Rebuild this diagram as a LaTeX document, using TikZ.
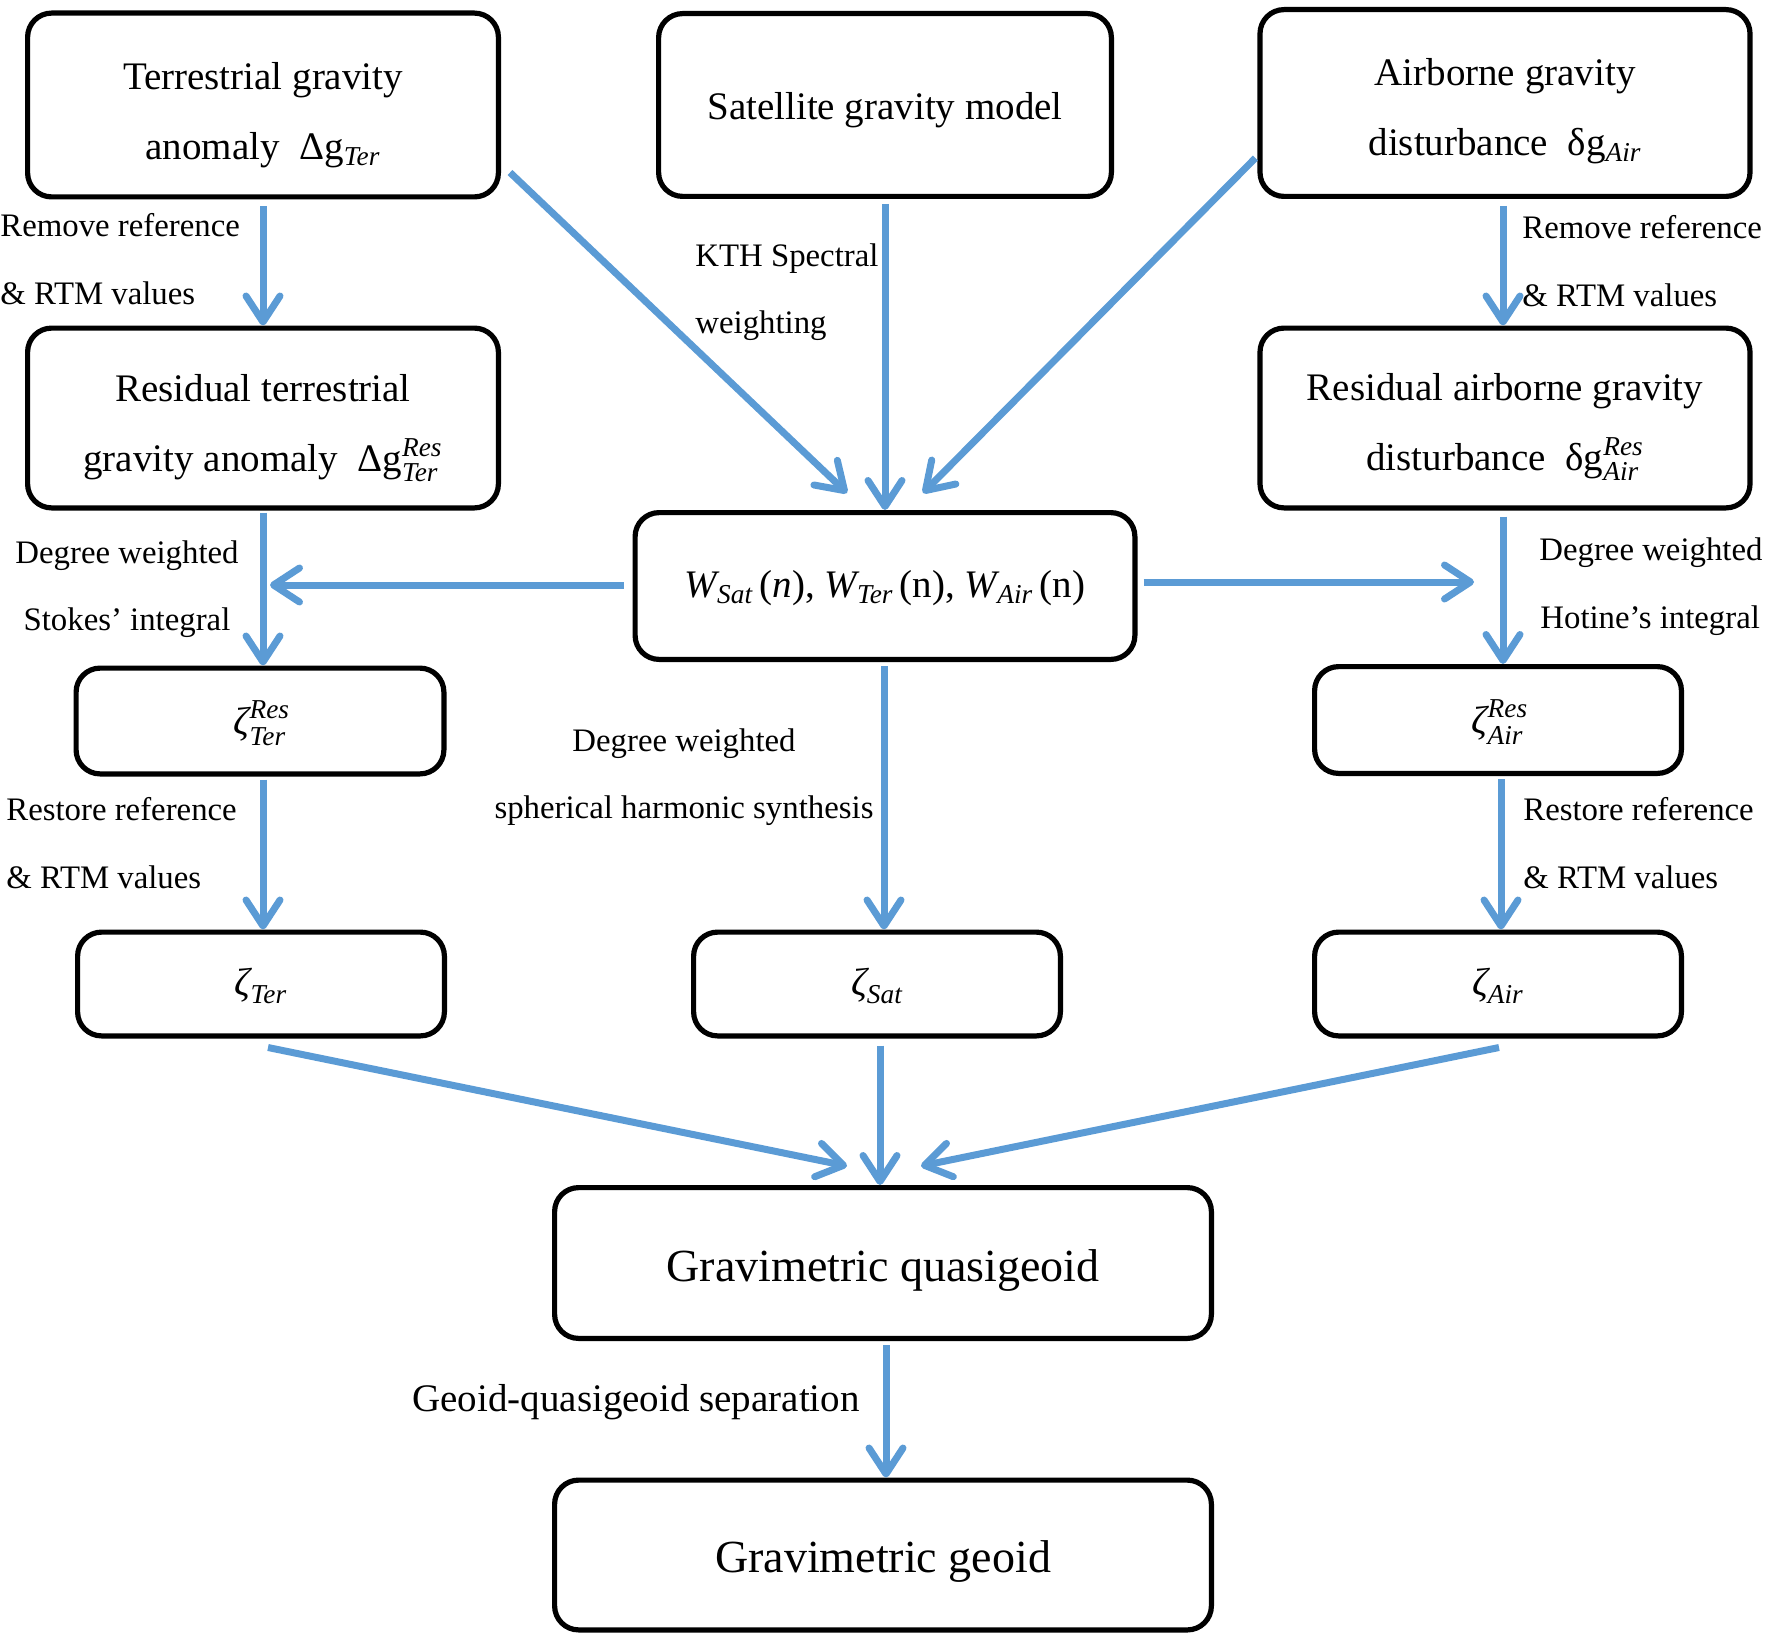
\documentclass[tikz,border=0pt]{standalone}
\usepackage{amsmath}
\usepackage{fontspec}
\setmainfont{Liberation Serif}
\usetikzlibrary{arrows.meta,calc}
\definecolor{arrblue}{HTML}{5B9BD5}
\newcommand{\itx}[1]{\text{\itshape #1}}
\tikzset{
  box/.style={draw=black, line width=2.6pt, rounded corners=12pt, fill=white, inner sep=0pt},
  btxt/.style={inner sep=0pt, align=center, font=\fontsize{19.5}{35}\selectfont},
  bigtxt/.style={inner sep=0pt, align=center, font=\fontsize{23}{28}\selectfont},
  arr/.style={draw=arrblue, line width=3.5pt, -{Straight Barb[length=13pt,width=17pt,round]}},
  lbl/.style={inner sep=0pt, font=\fontsize{16.4}{20}\selectfont},
  glbl/.style={inner sep=0pt, font=\fontsize{19.5}{24}\selectfont},
}
\begin{document}
\begin{tikzpicture}[x=0.5pt,y=-0.5pt]
\useasboundingbox (0,0) rectangle (1765,1637);
% boxes
\node[box, minimum width=235.4pt, minimum height=91.9pt] (ter) at (263,105) {};
\node[box, minimum width=226.4pt, minimum height=91.4pt] (sat) at (885,105) {};
\node[box, minimum width=245pt, minimum height=93.4pt] (air) at (1505,103) {};
\node[box, minimum width=235.4pt, minimum height=89.9pt] (rter) at (263,418) {};
\node[box, minimum width=245pt, minimum height=89.9pt] (rair) at (1505,418) {};
\node[box, minimum width=249.9pt, minimum height=73.4pt] (w) at (885,586) {};
\node[box, minimum width=183.9pt, minimum height=52.9pt] (zrter) at (260,721) {};
\node[box, minimum width=183.4pt, minimum height=53.4pt] (zrair) at (1498,720) {};
\node[box, minimum width=183.4pt, minimum height=51.9pt] (zter) at (261,984) {};
\node[box, minimum width=183.4pt, minimum height=51.9pt] (zsat) at (877,984) {};
\node[box, minimum width=183.4pt, minimum height=51.9pt] (zair) at (1498,984) {};
\node[box, minimum width=328.4pt, minimum height=75.4pt] (quasi) at (883,1263) {};
\node[box, minimum width=328.4pt, minimum height=74.9pt] (geoid) at (883,1555) {};
% box texts
\node[btxt] (terT) at ($(ter)+(0,10)$) {Terrestrial gravity\\anomaly\ \ Δg$_{\itx{Ter}}$};
\node[btxt] (satT) at ($(sat)+(0,5)$) {Satellite gravity model};
\node[btxt] (airT) at ($(air)+(0,8)$) {Airborne gravity\\disturbance\ \ δg$_{\itx{Air}}$};
\node[btxt] (rterT) at ($(rter)+(0,10)$) {Residual terrestrial\\gravity anomaly\ \ Δg$^{\itx{Res}}_{\itx{Ter}}$};
\node[btxt] (rairT) at ($(rair)+(0,9)$) {Residual airborne gravity\\disturbance\ \ δg$^{\itx{Res}}_{\itx{Air}}$};
\node[btxt] (wT) at ($(w)+(0,2)$) {{\itshape W}$_{\itx{Sat}}$\,({\itshape n}), {\itshape W}$_{\itx{Ter}}$\,(n), {\itshape W}$_{\itx{Air}}$\,(n)};
\node[btxt] (zrterT) at ($(zrter)+(2,2)$) {$\itx{ζ}^{\itx{Res}}_{\itx{Ter}}$};
\node[btxt] (zrairT) at ($(zrair)+(2,2)$) {$\itx{ζ}^{\itx{Res}}_{\itx{Air}}$};
\node[btxt] (zterT) at ($(zter)+(0,2)$) {$\itx{ζ}_{\itx{Ter}}$};
\node[btxt] (zsatT) at ($(zsat)+(0,2)$) {$\itx{ζ}_{\itx{Sat}}$};
\node[btxt] (zairT) at ($(zair)+(0,2)$) {$\itx{ζ}_{\itx{Air}}$};
\node[bigtxt] (quasiT) at ($(quasi)+(0,7)$) {Gravimetric quasigeoid};
\node[bigtxt] (geoidT) at ($(geoid)+(0,6)$) {Gravimetric geoid};
% labels
\node[lbl, anchor=base west] (lrem1) at (0,236) {Remove reference};
\node[lbl, anchor=base west] (lrem2) at (0,304) {\& RTM values};
\node[lbl, anchor=base west] (kth1) at (695,266) {KTH Spectral};
\node[lbl, anchor=base west] (kth2) at (695,333) {weighting};
\node[lbl, anchor=base west] (rrem1) at (1522,239) {Remove reference};
\node[lbl, anchor=base west] (rrem2) at (1522,306) {\& RTM values};
\node[lbl, anchor=base] (ldeg1) at (127,563) {Degree weighted};
\node[lbl, anchor=base] (ldeg2) at (127,630) {Stokes’ integral};
\node[lbl, anchor=base west] (rdeg1) at (1539,560) {Degree weighted};
\node[lbl, anchor=base west] (rdeg2) at (1540,628) {Hotine’s integral};
\node[lbl, anchor=base] (mdeg1) at (684,751) {Degree weighted};
\node[lbl, anchor=base] (mdeg2) at (684,818) {spherical harmonic synthesis};
\node[lbl, anchor=base west] (lres1) at (6,820) {Restore reference};
\node[lbl, anchor=base west] (lres2) at (6,888) {\& RTM values};
\node[lbl, anchor=base west] (rres1) at (1523,820) {Restore reference};
\node[lbl, anchor=base west] (rres2) at (1523,888) {\& RTM values};
\node[glbl, anchor=base west] (geo) at (412,1411) {Geoid-quasigeoid separation};
% arrows
\draw[arr] ($(ter.south)+(0,7)$) -- (rter.north);
\draw[arr] ($(air.south)+(-2,7)$) -- ($(rair.north)+(-2,0)$);
\draw[arr] ($(ter.south east)+(9,-27)$) -- ($(w.north)+(-38,-17)$);
\draw[arr] ($(sat.south)+(0,5)$) -- (w.north);
\draw[arr] ($(air.south west)+(-2,-41)$) -- ($(w.north)+(38,-17)$);
\draw[arr] ($(rter.south)+(0,2)$) -- ($(rter.south |- zrter.north)$);
\draw[arr] ($(w.west)+(-9,-1)$) -- ($(rter.south |- w.west)+(7,-1)$);
\draw[arr] ($(w.east)+(6,-4)$) -- ($(rair.south |- w.east)+(-31,-4)$);
\draw[arr] ($(rair.south)+(-2,6)$) -- ($(rair.south |- zrair.north)+(-2,0)$);
\draw[arr] ($(w.south)+(-1,4)$) -- ($(w.south |- zsat.north)+(-1,0)$);
\draw[arr] ($(rter.south |- zrter.south)+(0,3)$) -- ($(rter.south |- zter.north)$);
\draw[arr] ($(zrair.south)+(3,3)$) -- ($(zrair.south |- zair.north)+(3,0)$);
\draw[arr] ($(zter.south)+(7,9)$) -- ($(quasi.north)+(-36,-19)$);
\draw[arr] ($(zsat.south)+(3,7)$) -- ($(zsat.south |- quasi.north)+(3,0)$);
\draw[arr] ($(zair.south)+(1,9)$) -- ($(quasi.north)+(38,-19)$);
\draw[arr] ($(quasi.south)+(3,4)$) -- ($(quasi.south |- geoid.north)+(3,0)$);
\end{tikzpicture}
\end{document}
